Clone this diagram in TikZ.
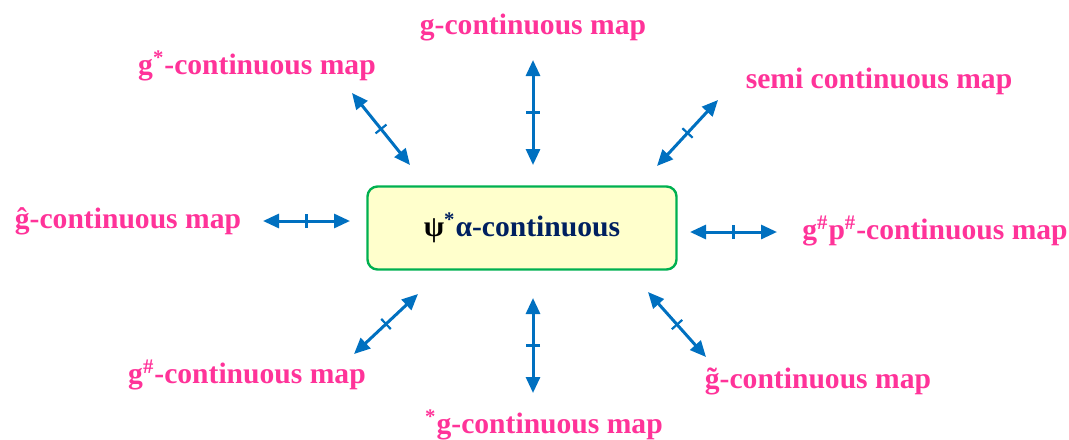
\documentclass[tikz,border=0pt]{standalone}
\usepackage{fontspec}
\setmainfont{Liberation Serif}
\usetikzlibrary{arrows.meta,decorations.markings}
\definecolor{mappink}{HTML}{FF3399}
\definecolor{linkblue}{HTML}{0070C0}
\definecolor{boxgreen}{HTML}{00B050}
\definecolor{boxfill}{HTML}{FFFFCC}
\definecolor{navy}{HTML}{002060}
\tikzset{
  lbl/.style  = {font=\fontsize{14.8}{17}\selectfont\bfseries, text=mappink, inner sep=0pt},
  core/.style = {draw=boxgreen, line width=1.2pt, fill=boxfill, rounded corners=5pt,
                 minimum width=154.5pt, minimum height=41.5pt,
                 font=\fontsize{14.8}{17}\selectfont\bfseries, text=navy},
  link/.style = {{Triangle[length=8pt,width=7pt]}-{Triangle[length=8pt,width=7pt]},
                 line width=1.5pt, draw=linkblue, postaction={decorate},
                 decoration={markings, mark=at position 0.5 with
                   {\draw[-,linkblue,line width=1.1pt] (0,-3.5pt) -- (0,3.5pt);}}},
}
\begin{document}
\begin{tikzpicture}[x=0.5pt,y=-0.5pt]
  \useasboundingbox (0,0) rectangle (1069,439);
  \node[core] (psi) at (522,228) {{\color{black}ψ}\textsuperscript{*}α-continuous};
  % surrounding maps
  \node[lbl] (gmap)   at (533,27)  {g-continuous map};
  \node[lbl] (gstar)  at (257,66)  {g\textsuperscript{*}-continuous map};
  \node[lbl] (semi)   at (879,81)  {semi continuous map};
  \node[lbl] (ghat)   at (128,221) {\^{g}-continuous map};
  \node[lbl] (gpp)    at (935,231) {g\textsuperscript{\#}p\textsuperscript{\#}-continuous map};
  \node[lbl] (gsharp) at (247,375) {g\textsuperscript{\#}-continuous map};
  \node[lbl] (starg)  at (544,425) {\textsuperscript{*}g-continuous map};
  \node[lbl] (gtilde) at (818,381) {\~{g}-continuous map};
  % arrow ends
  \coordinate (gmap-a)   at (533,60);  \coordinate (gmap-b)   at (533,165);
  \coordinate (gstar-a)  at (352,93);  \coordinate (gstar-b)  at (410,165);
  \coordinate (semi-a)   at (718,100); \coordinate (semi-b)   at (657,166);
  \coordinate (ghat-a)   at (263,221); \coordinate (ghat-b)   at (350,221);
  \coordinate (gpp-a)    at (777,232); \coordinate (gpp-b)    at (690,232);
  \coordinate (gsharp-a) at (354,354); \coordinate (gsharp-b) at (418,294);
  \coordinate (starg-a)  at (533,393); \coordinate (starg-b)  at (533,298);
  \coordinate (gtilde-a) at (706,357); \coordinate (gtilde-b) at (648,292);
  \foreach \m in {gmap,gstar,semi,ghat,gpp,gsharp,starg,gtilde}
    \draw[link] (\m-a) -- (\m-b);
\end{tikzpicture}
\end{document}
